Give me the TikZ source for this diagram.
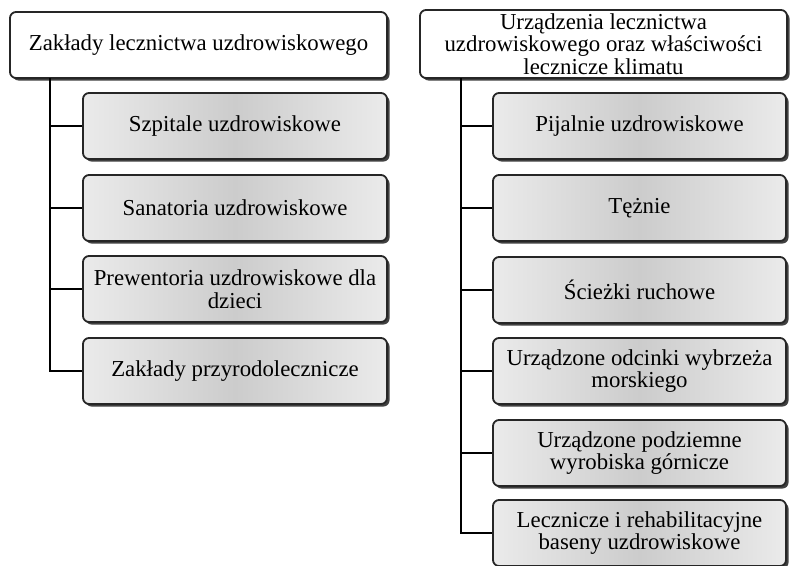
\documentclass[tikz,border=0pt]{standalone}
\usepackage{fontspec}
\setmainfont{Liberation Serif}
\usetikzlibrary{shadows}
\begin{document}
\begin{tikzpicture}[x=1pt,y=-1pt,
  basebox/.style={draw=black!85, line width=1.8pt, rounded corners=6pt, align=center,
    font=\fontsize{22.8}{22.5}\selectfont, inner sep=0pt,
    drop shadow={shadow xshift=2.5pt, shadow yshift=-2.5pt, fill=black!75, opacity=1}},
  parentbox/.style={basebox, fill=white},
  childbox/.style={basebox, left color=black!8, right color=black!8, middle color=black!20},
  conn/.style={draw=black, line width=2.2pt}]
\useasboundingbox (0,0) rectangle (795,565);
% left column
\node[parentbox, minimum width=377pt, minimum height=66pt] (lp) at (198.5,45) {Zakłady lecznictwa uzdrowiskowego};
\node[childbox, minimum width=304pt, minimum height=66pt] (l1) at (235,126) {Szpitale uzdrowiskowe};
\node[childbox, minimum width=304pt, minimum height=66pt] (l2) at (235,208) {Sanatoria uzdrowiskowe};
\node[childbox, minimum width=304pt, minimum height=66pt] (l3) at (235,289) {Prewentoria uzdrowiskowe dla\\dzieci};
\node[childbox, minimum width=304pt, minimum height=66pt] (l4) at (235,371) {Zakłady przyrodolecznicze};
% right column
\node[parentbox, minimum width=367pt, minimum height=68pt] (rp) at (603.5,44) {Urządzenia lecznictwa\\uzdrowiskowego oraz właściwości\\lecznicze klimatu};
\node[childbox, minimum width=293pt, minimum height=66pt] (r1) at (639.5,126) {Pijalnie uzdrowiskowe};
\node[childbox, minimum width=293pt, minimum height=66pt] (r2) at (639.5,208) {Tężnie};
\node[childbox, minimum width=293pt, minimum height=66pt] (r3) at (639.5,290) {Ścieżki ruchowe};
\node[childbox, minimum width=293pt, minimum height=66pt] (r4) at (639.5,371) {Urządzone odcinki wybrzeża\\morskiego};
\node[childbox, minimum width=293pt, minimum height=66pt] (r5) at (639.5,453) {Urządzone podziemne\\wyrobiska górnicze};
\node[childbox, minimum width=293pt, minimum height=66pt] (r6) at (639.5,533) {Lecznicze i rehabilitacyjne\\baseny uzdrowiskowe};
% connectors
\coordinate (lt) at (50,78);
\coordinate (rt) at (461,78);
\foreach \c in {l1,l2,l3,l4} \draw[conn] (lt) |- (\c.west);
\foreach \c in {r1,r2,r3,r4,r5,r6} \draw[conn] (rt) |- (\c.west);
\end{tikzpicture}
\end{document}
